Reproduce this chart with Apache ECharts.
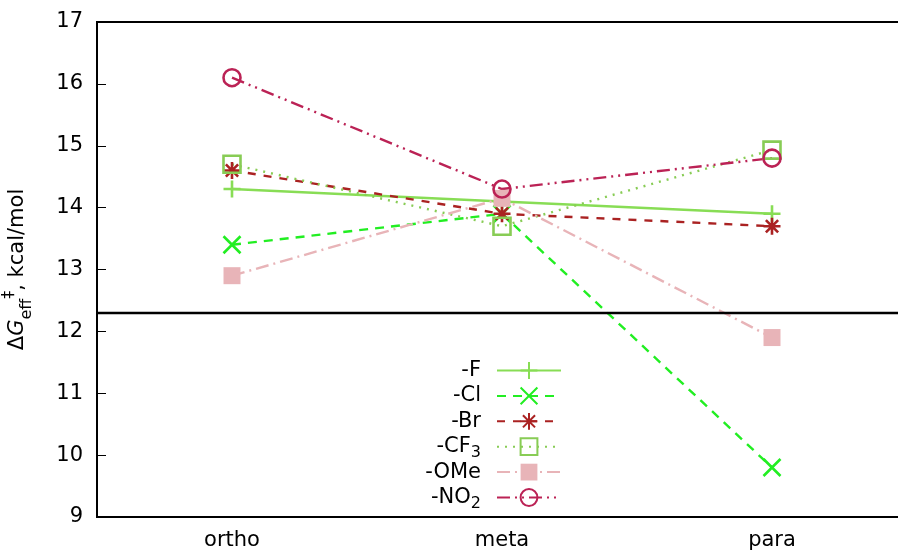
<!DOCTYPE html>
<html>
<head>
<meta charset="utf-8">
<script src="https://cdn.jsdelivr.net/npm/echarts@6/dist/echarts.min.js"></script>
<style>html,body{margin:0;padding:0;background:#fff}#c{width:898px;height:553px}</style>
</head>
<body>
<div id="c"></div>
<script>
var categories = ['ortho', 'meta', 'para'];
var seriesNames = ['-F', '-Cl', '-Br', '-CF3', '-OMe', '-NO2'];
var valF   = [14.3, 14.1, 13.9];
var valCl  = [13.4, 13.9, 9.8];
var valBr  = [14.6, 13.9, 13.7];
var valCF3 = [14.7, 13.7, 14.93];
var valOMe = [12.9, 14.15, 11.9];
var valNO2 = [16.1, 14.3, 14.8];
var yTicks = [9, 10, 11, 12, 13, 14, 15, 16, 17];
var refLine = 12.3;

var FONT = 'DejaVu Sans';
var FS = 21;
var symPlus = 'path://M0,-1L0,1M-1,0L1,0';
var symCross = 'path://M-1,-1L1,1M-1,1L1,-1';
var symStar = 'path://M0,-1L0,1M-1,0L1,0M-0.72,-0.72L0.72,0.72M-0.72,0.72L0.72,-0.72';
var symSquare = 'path://M-1,-1L1,-1L1,1L-1,1Z';
var symCircle = 'path://M1,0A1,1,0,1,1,-1,0A1,1,0,1,1,1,0Z';

function mk(name, data, color, dash, symbol, filled) {
  return {
    name: name,
    type: 'line',
    data: data,
    symbol: symbol,
    symbolSize: 17,
    showAllSymbol: true,
    lineStyle: { color: color, width: 2.4, type: dash },
    itemStyle: filled ? { color: color, borderWidth: 0 } :
      { color: 'rgba(0,0,0,0)', borderColor: color, borderWidth: 2.6 },
    emphasis: { disabled: true },
    animation: false
  };
}

var series = [
  mk(seriesNames[0], valF, '#88dd55', 'solid', symPlus, false),
  mk(seriesNames[1], valCl, '#22ee22', [9, 7], symCross, false),
  mk(seriesNames[2], valBr, '#aa2222', [8, 8], symStar, false),
  mk(seriesNames[3], valCF3, '#88cc55', [2, 6], symSquare, false),
  mk(seriesNames[4], valOMe, '#e8b4b8', [13, 5, 2, 5], 'rect', true),
  mk(seriesNames[5], valNO2, '#bb2255', [13, 5, 2, 5, 2, 5], symCircle, false)
];
series[0].markLine = {
  silent: true,
  symbol: 'none',
  label: { show: false },
  lineStyle: { color: '#000', width: 2.4, type: 'solid' },
  data: [{ yAxis: refLine }],
  animation: false
};

var chart = echarts.init(document.getElementById('c'));
chart.setOption({
  backgroundColor: '#fff',
  animation: false,
  grid: { left: 97, top: 22, width: 810, height: 495, outerBoundsMode: 'none', containLabel: false,
          show: true, borderColor: '#000', borderWidth: 2, backgroundColor: 'transparent' },
  legend: {
    orient: 'vertical',
    align: 'right',
    right: 331,
    top: 351.5,
    itemWidth: 64,
    itemHeight: 21,
    itemGap: -2.6,
    padding: 5,
    data: seriesNames,
    formatter: function (n) {
      if (n === '-CF3') return '{t|-CF}{s|3}{g|}';
      if (n === '-NO2') return '{t|-NO}{s|2}{g|}';
      return '{t|' + n + '}{s|\u200b}{g|}';
    },
    textStyle: {
      fontFamily: FONT, fontSize: FS, color: '#000', lineHeight: 21,
      rich: {
        t: { fontFamily: FONT, fontSize: FS, color: '#000', lineHeight: 21 },
        s: { fontFamily: FONT, fontSize: 16, color: '#000', lineHeight: 8, padding: [12, 0, 0, 0] },
        g: { width: 11, lineHeight: 21 }
      }
    }
  },
  xAxis: {
    type: 'category',
    data: categories,
    boundaryGap: true,
    axisLine: { lineStyle: { color: '#000', width: 2 } },
    axisTick: { inside: true, alignWithLabel: true, length: 9, lineStyle: { color: '#000', width: 1 } },
    axisLabel: { fontFamily: FONT, fontSize: FS, color: '#000', margin: 13 },
    splitLine: { show: false }
  },
  yAxis: {
    type: 'value',
    min: 9, max: 17, interval: 1,
    axisLine: { show: true, lineStyle: { color: '#000', width: 2 } },
    axisTick: { show: true, inside: true, length: 9, lineStyle: { color: '#000', width: 1 } },
    axisLabel: { fontFamily: FONT, fontSize: FS, color: '#000', margin: 14,
      formatter: function (v) { return yTicks.indexOf(v) >= 0 ? String(v) : ''; } },
    splitLine: { show: false },
    name: '{a|Δ}{i|G}{s|eff}{p|‡}{a|, kcal/mol}',
    nameLocation: 'middle',
    nameRotate: 90,
    nameGap: 62,
    nameTextStyle: {
      fontFamily: FONT, fontSize: FS, color: '#000',
      rich: {
        a: { fontFamily: FONT, fontSize: FS, color: '#000', lineHeight: 34, verticalAlign: 'middle' },
        i: { fontFamily: FONT, fontSize: FS, fontStyle: 'italic', color: '#000', lineHeight: 34, verticalAlign: 'middle' },
        s: { fontFamily: FONT, fontSize: 16, color: '#000', lineHeight: 14, verticalAlign: 'bottom' },
        p: { fontFamily: FONT, fontSize: 16, color: '#000', lineHeight: 14, verticalAlign: 'top' }
      }
    }
  },
  series: series
});
</script>
</body>
</html>
